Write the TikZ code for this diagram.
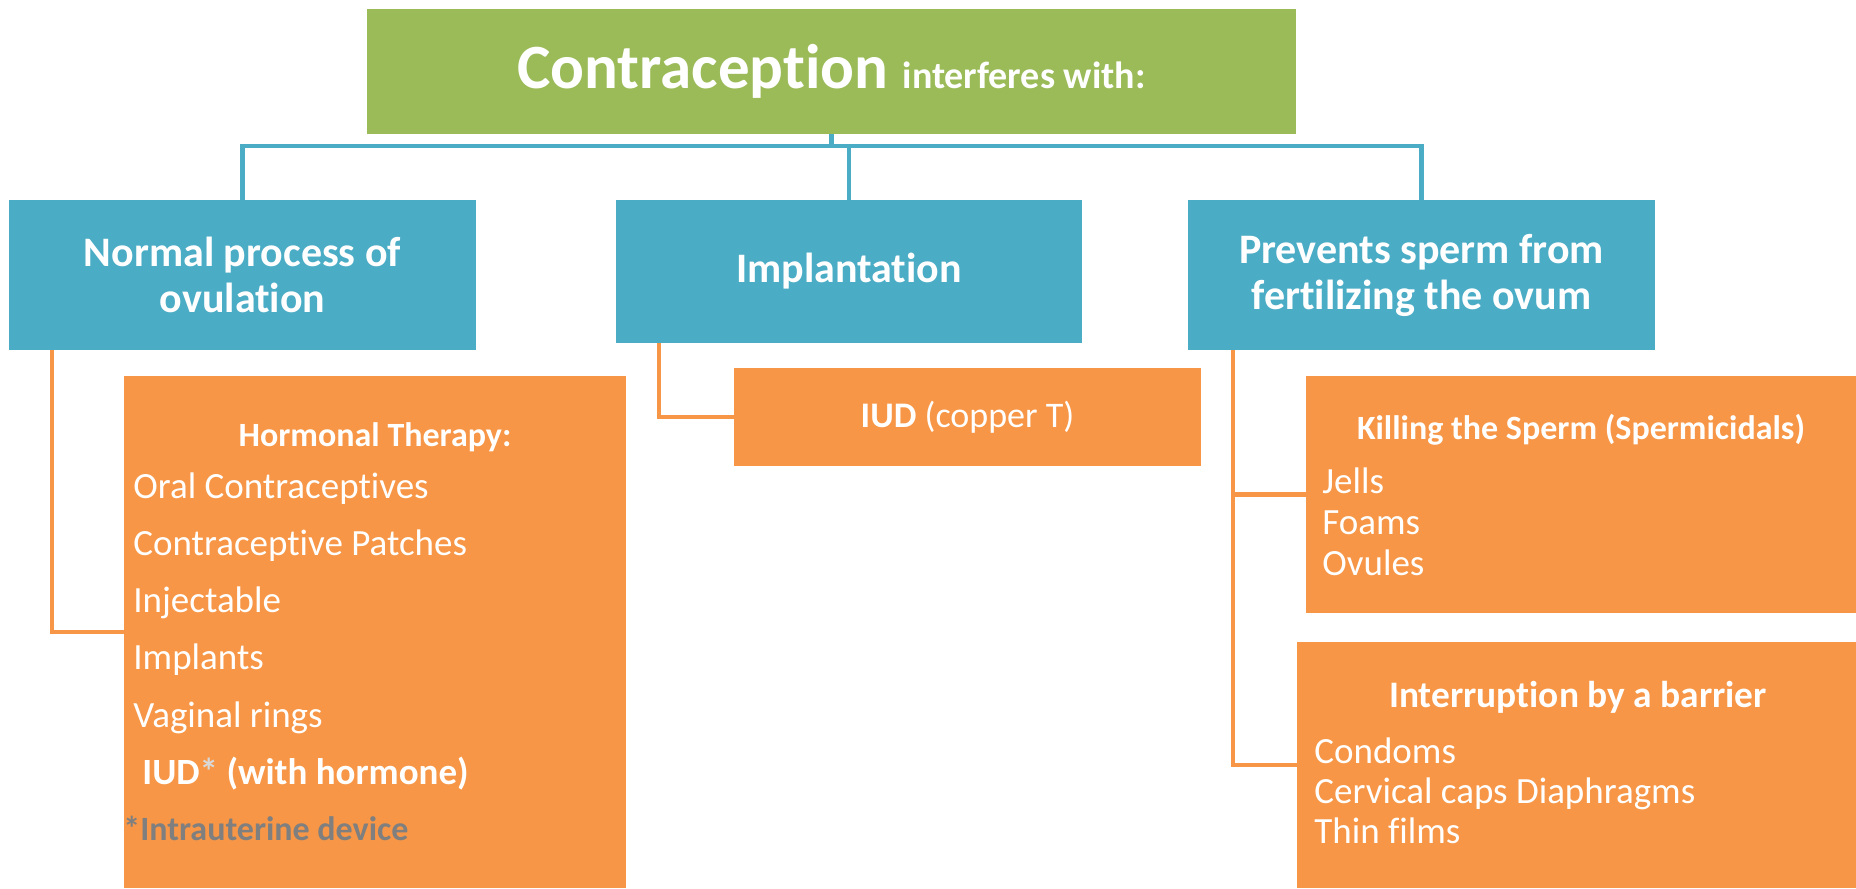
\documentclass[tikz,border=0pt]{standalone}
\usepackage{fontspec}
\setmainfont{Carlito}[Ligatures=NoCommon]
\usetikzlibrary{positioning}
\definecolor{Leaf}{HTML}{9BBB59}
\definecolor{Sky}{HTML}{4BACC6}
\definecolor{Peach}{HTML}{F79646}
\definecolor{Slate}{HTML}{7F7F7F}
\definecolor{Pale}{HTML}{D9D9D9}

\begin{document}
\begin{tikzpicture}[x=0.5pt,y=-0.5pt,
    box/.style={rectangle,inner sep=0pt,outer sep=0pt},
    bus/.style={line width=2.4pt,Sky},
    link/.style={line width=2.4pt,Peach},
    head/.style={text=white,font=\bfseries\fontsize{21}{23}\selectfont,align=center},
    title/.style={anchor=base,text=white,font=\bfseries\fontsize{17}{20}\selectfont,inner sep=0pt},
    item/.style={anchor=base west,text=white,font=\fontsize{18.5}{22}\selectfont,inner sep=0pt}]
    \useasboundingbox (0,0) rectangle (1856,888);
    \node[box,fill=Leaf,minimum width=464.5pt,minimum height=62.5pt,text=white,font=\bfseries] (top) at (831.5,71.5)
        {\fontsize{31.5}{36}\selectfont Contraception \fontsize{19}{22}\selectfont interferes with:};
    \node[box,fill=Sky,minimum width=233.5pt,minimum height=75pt,head] (normal) at (242.5,275) {Normal process of\\ovulation};
    \node[box,fill=Sky,minimum width=233pt,minimum height=71.5pt,head] (implant) at (849,271.5) {Implantation};
    \node[box,fill=Sky,minimum width=233.5pt,minimum height=75pt,head] (prevents) at (1421.5,275) {Prevents sperm from\\fertilizing the ovum};
    \node[box,fill=Peach,minimum width=251pt,minimum height=256pt] (hormonal) at (375,632) {};
    \node[box,fill=Peach,minimum width=233.5pt,minimum height=49pt,text=white,font=\fontsize{18}{21}\selectfont] (iud) at (967.5,417)
        {\textbf{IUD} (copper T)};
    \node[box,fill=Peach,minimum width=275pt,minimum height=118.5pt] (killing) at (1581,494.5) {};
    \node[box,fill=Peach,minimum width=279.5pt,minimum height=123pt] (barrier) at (1576.5,765) {};
    \node[title] (hormtitle) at (375,446) {Hormonal Therapy:};
    \foreach \txt [count=\i from 0] in {Oral Contraceptives,Contraceptive Patches,Injectable,Implants,Vaginal rings}
        \node[item] (horm\i) at (133,{498+57.3*\i}) {\txt};
    \node[item,font=\bfseries\fontsize{18.5}{22}\selectfont] (hormiud) at (142,784.5) {IUD\textcolor{Pale}{*} (with hormone)};
    \node[item,text=Slate,font=\bfseries\fontsize{17}{20}\selectfont] (footnote) at (123,840) {*Intrauterine device};
    \node[title] (killtitle) at (1581,439) {Killing the Sperm (Spermicidals)};
    \foreach \txt [count=\i from 0] in {Jells,Foams,Ovules}
        \node[item] (kill\i) at (1322,{493+41*\i}) {\txt};
    \node[title,font=\bfseries\fontsize{18.7}{22}\selectfont] (barriertitle) at (1578,707) {Interruption by a barrier};
    \foreach \txt [count=\i from 0] in {Condoms,Cervical caps Diaphragms,Thin films}
        \node[item] (barrier\i) at (1314,{763+40*\i}) {\txt};
    \coordinate (rail) at (0,146);
    \draw[bus] (top.south) -- (top.south |- rail);
    \draw[bus] (normal.north) -- (normal.north |- rail) -| (prevents.north);
    \draw[bus] (implant.north) -- (implant.north |- rail);
    \draw[link] ([xshift=21.5pt]normal.south west) |- (hormonal.west);
    \draw[link] ([xshift=21.5pt]implant.south west) |- (iud.west);
    \coordinate (trunk) at ([xshift=22.5pt]prevents.south west);
    \draw[link] (trunk) |- (barrier.west);
    \draw[link] (killing.west) -- (killing.west -| trunk);
\end{tikzpicture}
\end{document}
